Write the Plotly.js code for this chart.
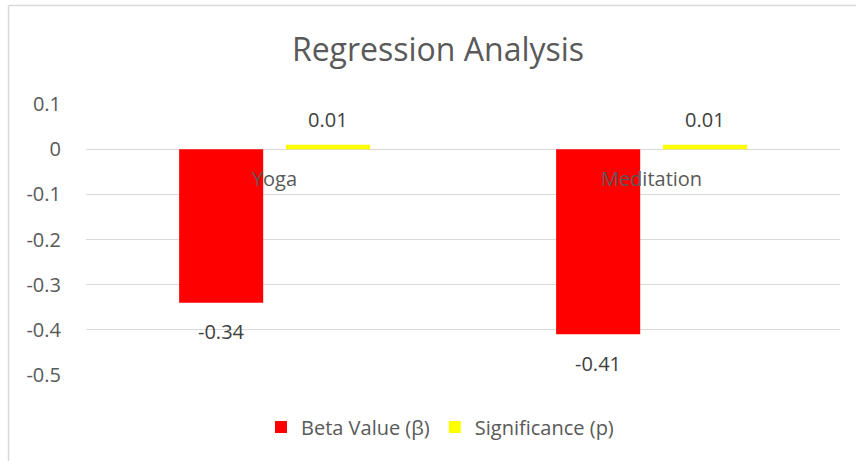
<!DOCTYPE html>
<html>
<head>
<meta charset="utf-8">
<script src="https://cdn.plot.ly/plotly-3.0.1.min.js"></script>
<style>html,body{margin:0;padding:0;background:#fff;}#chart{width:856px;height:461px;}</style>
</head>
<body>
<div id="chart"></div>
<script>
const categories = ['Yoga', 'Meditation'];
const betaValues = [-0.34, -0.41];
const significanceValues = [0.01, 0.01];
const betaLabels = ['-0.34', '-0.41'];
const significanceLabels = ['0.01', '0.01'];
const seriesNames = ['Beta Value (β)', 'Significance (p)'];
const yTickVals = [0.1, 0, -0.1, -0.2, -0.3, -0.4, -0.5];
const yTickText = ['0.1', '0', '-0.1', '-0.2', '-0.3', '-0.4', '-0.5'];

const FONT = 'Open Sans, Noto Sans, sans-serif';
const W = 856, H = 461;
const ml = 86, mr = 16, mt = 104, mb = 86;
const pw = W - ml - mr, ph = H - mt - mb;
const px2x = p => (p - ml) / pw;
const py2y = p => (H - mb - p) / ph;

const barW = 0.223;
const traces = [
  {type: 'bar', x: categories, y: betaValues, name: seriesNames[0],
   marker: {color: '#ff0000'}, width: barW, offset: -0.253, hoverinfo: 'none'},
  {type: 'bar', x: categories, y: significanceValues, name: seriesNames[1],
   marker: {color: '#ffff00'}, width: barW, offset: 0.0305, hoverinfo: 'none'}
];

const annotations = [];
categories.forEach((c, i) => {
  annotations.push({x: c, y: betaValues[i], xref: 'x', yref: 'y', text: betaLabels[i],
    showarrow: false, xshift: (-0.253 + barW / 2) * (pw / 2), yshift: -29, yanchor: 'middle',
    font: {family: FONT, size: 20, color: '#404040'}});
  annotations.push({x: c, y: significanceValues[i], xref: 'x', yref: 'y', text: significanceLabels[i],
    showarrow: false, xshift: (0.0305 + barW / 2) * (pw / 2), yshift: 25, yanchor: 'middle',
    font: {family: FONT, size: 20, color: '#404040'}});
});

const layout = {
  width: W, height: H,
  margin: {l: ml, r: mr, t: mt, b: mb, pad: 0},
  paper_bgcolor: '#ffffff', plot_bgcolor: '#ffffff',
  barmode: 'overlay',
  showlegend: true,
  title: {text: 'Regression Analysis', font: {family: FONT, size: 32, color: '#595959'},
    x: 438 / W, xref: 'container', xanchor: 'center', y: 1 - 50 / H, yref: 'container', yanchor: 'middle'},
  xaxis: {type: 'category', range: [-0.5, 1.5], anchor: 'free', position: 0.5 / 0.6,
    showgrid: false, zeroline: false, showline: false,
    ticks: 'outside', ticklen: 12, tickcolor: 'rgba(0,0,0,0)',
    tickfont: {family: FONT, size: 20, color: '#595959'}, fixedrange: true},
  yaxis: {range: [-0.5, 0.1], tickvals: yTickVals, ticktext: yTickText,
    showgrid: true, gridcolor: '#d9d9d9', gridwidth: 1.3,
    zeroline: true, zerolinecolor: '#d9d9d9', zerolinewidth: 1.3, showline: false,
    ticks: 'outside', ticklen: 20, tickcolor: 'rgba(0,0,0,0)',
    tickfont: {family: FONT, size: 20, color: '#595959'}, fixedrange: true},
  legend: {orientation: 'h', x: px2x(440), xanchor: 'center', y: py2y(427), yanchor: 'middle',
    font: {family: FONT, size: 20, color: '#595959'}, bgcolor: 'rgba(0,0,0,0)', itemwidth: 30},
  annotations: annotations,
  shapes: [
    {type: 'line', xref: 'paper', yref: 'paper', x0: px2x(8.5), x1: px2x(900), y0: py2y(5.5), y1: py2y(5.5),
     line: {color: '#d9d9d9', width: 1.5}, layer: 'below'},
    {type: 'line', xref: 'paper', yref: 'paper', x0: px2x(8.5), x1: px2x(8.5), y0: py2y(5.5), y1: py2y(500),
     line: {color: '#d9d9d9', width: 1.5}, layer: 'below'}
  ]
};

Plotly.newPlot('chart', traces, layout, {displayModeBar: false, staticPlot: true});
</script>
</body>
</html>
